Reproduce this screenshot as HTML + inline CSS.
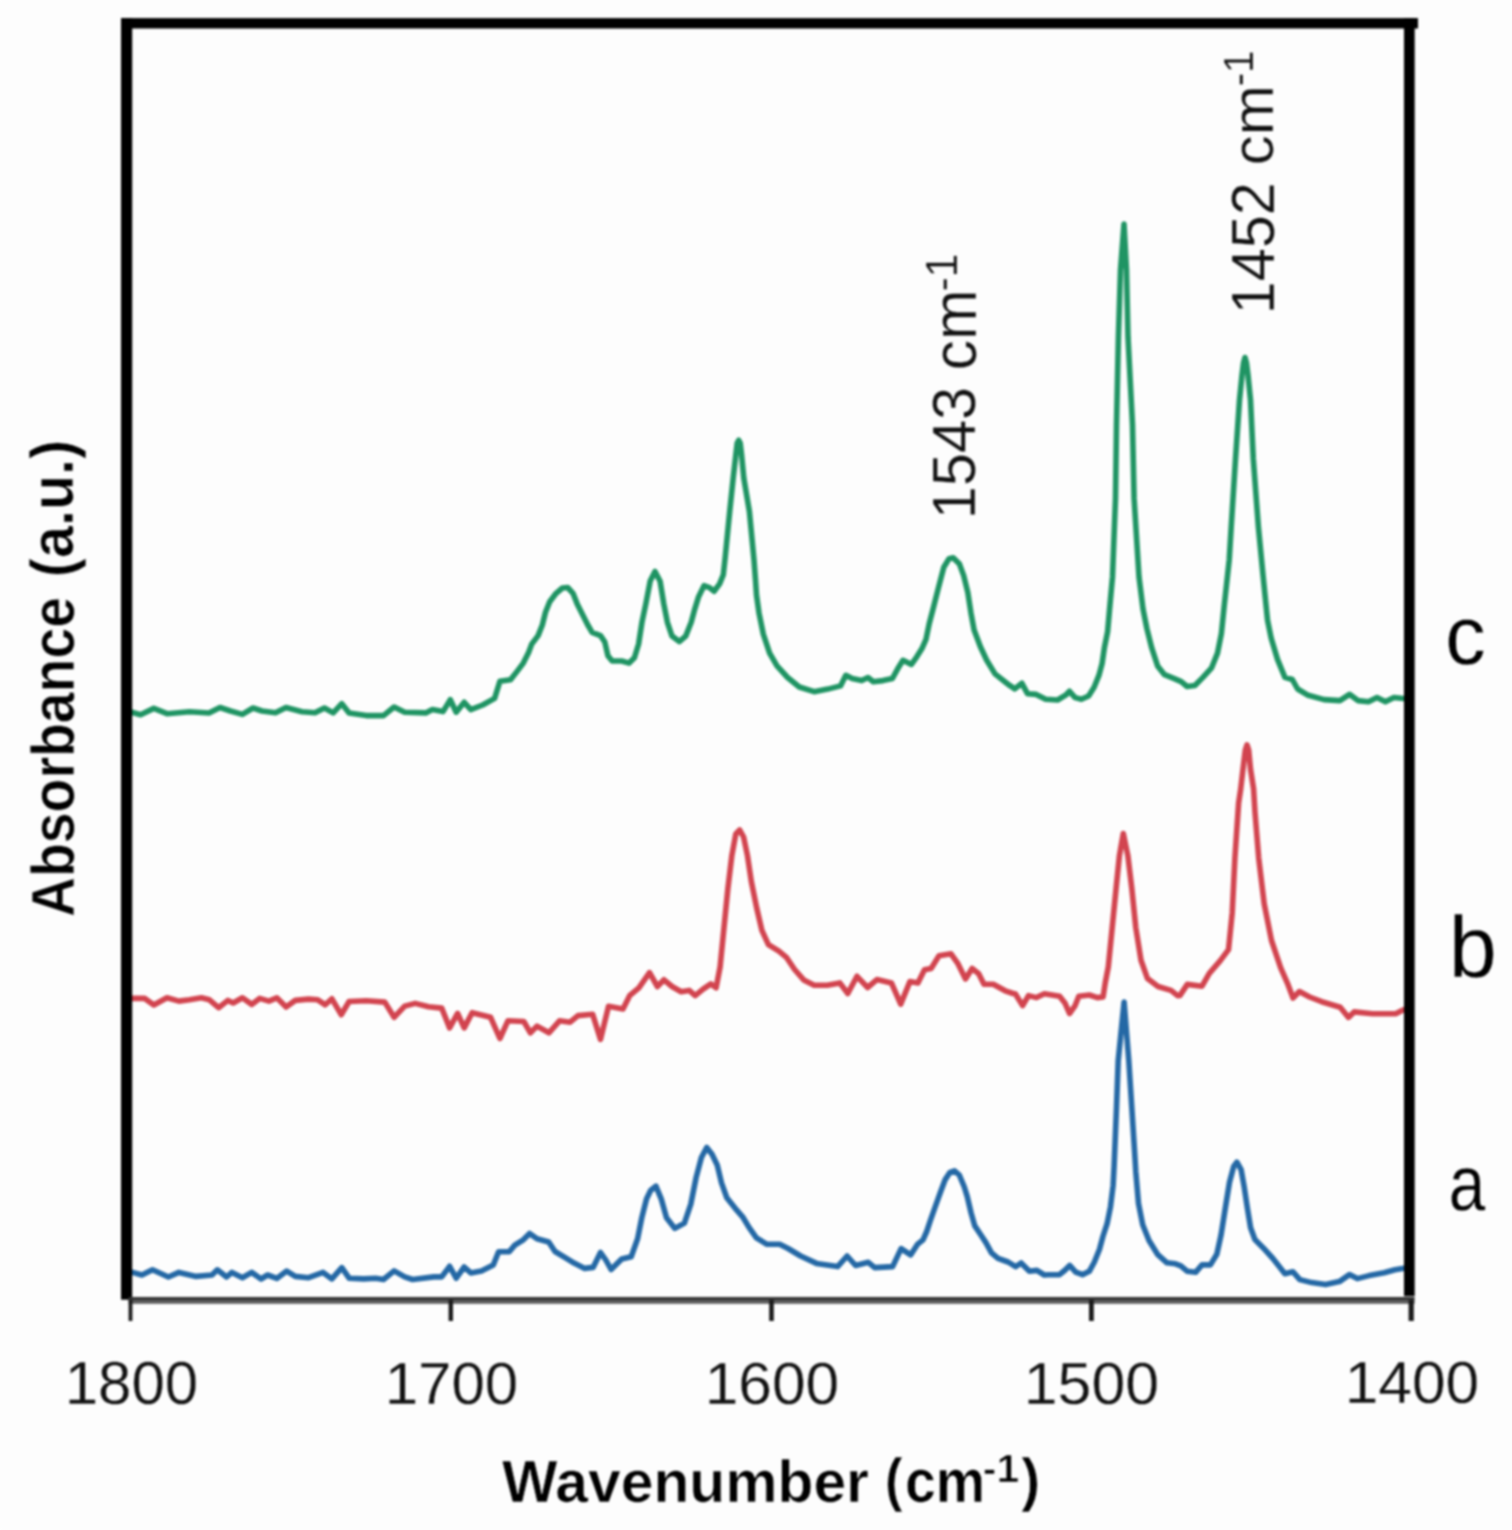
<!DOCTYPE html>
<html><head><meta charset="utf-8"><title>Absorbance spectra</title>
<style>
html,body{margin:0;padding:0;background:#fdfdfd;}
body{width:1512px;height:1530px;overflow:hidden;}
svg{display:block;filter:blur(1px);}
</style></head>
<body>
<svg width="1512" height="1530" viewBox="0 0 1512 1530">
<rect x="0" y="0" width="1512" height="1530" fill="#fdfdfd"/>
<g fill="none" stroke-linejoin="round" stroke-linecap="round" stroke-width="5.6">
<polyline stroke="#1f9463" points="130.0,711.7 140.6,714.7 153.8,708.4 167.0,713.7 189.5,711.7 209.0,713.0 220.0,707.5 230.5,711.0 242.4,714.4 253.0,708.0 262.0,711.0 275.5,712.8 286.0,707.5 302.0,711.7 315.0,712.8 324.4,708.0 333.2,712.9 341.8,703.7 349.1,712.9 366.3,715.6 383.5,715.6 394.1,707.0 404.7,712.2 425.8,712.9 432.4,709.6 443.0,711.6 450.3,699.7 456.2,712.2 464.2,702.3 470.8,709.6 482.7,705.0 494.6,698.4 499.9,681.2 510.5,679.8 516.9,671.6 523.3,663.1 528.6,652.5 531.7,644.1 538.1,635.6 542.3,625.0 545.5,612.3 549.7,601.7 556.1,593.3 562.4,588.0 567.7,587.5 573.0,593.3 577.2,603.9 582.5,614.4 587.8,625.0 592.1,632.4 600.5,635.6 604.8,642.0 607.9,655.7 612.2,661.0 621.7,661.0 629.1,663.1 634.4,657.8 638.6,644.0 642.0,622.0 646.0,603.0 650.2,581.0 655.0,571.5 660.1,581.2 663.8,604.0 667.4,622.3 672.0,636.1 679.3,641.6 685.7,636.1 691.2,622.3 694.9,608.6 698.6,596.7 704.0,585.7 709.5,587.6 714.1,591.2 719.6,583.9 723.3,574.8 725.1,558.3 729.7,511.5 733.2,478.0 735.8,455.0 737.2,443.0 738.7,440.3 740.2,443.0 741.6,455.0 743.8,478.0 749.4,511.5 754.0,560.0 755.5,580.0 756.5,595.0 759.0,613.0 763.3,634.1 769.6,653.1 777.0,665.8 787.6,677.5 799.3,687.0 814.1,691.7 827.8,689.1 840.5,685.9 845.8,675.3 852.2,678.5 861.7,680.6 868.0,677.5 873.3,681.7 882.9,680.6 892.4,678.5 897.8,668.6 903.0,660.3 911.4,664.4 916.6,657.1 921.8,648.8 926.0,639.3 929.2,623.7 933.3,608.0 938.6,587.1 943.8,567.2 949.0,558.8 953.2,557.8 959.5,564.1 963.7,575.6 967.8,592.3 971.0,613.2 974.1,629.9 980.4,646.7 986.7,660.3 995.0,673.9 1005.5,682.2 1010.0,685.7 1014.8,688.9 1021.9,683.3 1027.5,693.7 1036.2,694.4 1045.7,699.2 1057.6,700.0 1065.6,695.2 1069.5,691.3 1075.1,697.6 1081.4,699.2 1088.6,696.0 1094.1,687.3 1098.9,675.4 1102.1,663.5 1104.4,647.6 1107.6,631.7 1109.5,610.0 1112.5,576.9 1115.5,498.4 1116.5,425.0 1118.4,337.2 1120.5,270.0 1124.0,224.0 1126.5,270.0 1128.0,337.2 1132.5,425.0 1134.1,498.4 1139.0,576.9 1143.0,609.0 1146.9,628.6 1151.8,648.2 1157.6,665.9 1164.5,674.7 1174.3,678.6 1181.2,681.6 1187.1,686.5 1194.9,685.5 1202.7,677.6 1211.6,667.8 1217.5,653.1 1221.4,633.5 1224.3,605.0 1226.5,585.0 1229.2,560.0 1231.2,527.0 1235.5,459.0 1239.5,400.0 1242.0,375.0 1243.5,363.0 1245.0,357.5 1246.5,363.0 1248.0,375.0 1250.5,400.0 1253.3,459.0 1258.4,527.0 1263.0,575.0 1265.5,600.0 1267.5,620.0 1271.2,638.2 1277.5,659.4 1284.9,677.4 1292.3,679.5 1297.6,689.0 1308.2,695.3 1324.1,699.6 1339.9,700.6 1349.5,694.3 1357.9,700.6 1368.5,701.7 1377.0,697.5 1385.4,701.7 1393.9,697.5 1403.4,698.5 1409.0,698.2"/>
<polyline stroke="#d2444f" points="131.0,998.4 144.6,998.4 153.8,1005.0 167.0,997.8 178.9,1001.1 189.5,999.8 201.4,997.8 209.4,999.8 218.6,1007.7 227.9,1000.4 233.2,1003.0 242.4,997.8 251.7,1004.4 259.6,998.4 268.9,1001.1 276.8,997.8 286.1,1007.0 295.3,1000.4 308.6,999.1 317.8,999.8 325.3,1004.8 331.9,998.8 341.2,1014.7 349.1,1001.5 366.3,1000.8 384.8,1002.1 394.1,1017.3 404.7,1006.1 415.2,1003.4 428.5,1006.7 441.7,1008.1 449.6,1027.9 457.6,1013.4 464.2,1027.9 472.1,1012.7 490.6,1017.3 499.9,1038.5 507.9,1020.8 523.8,1021.5 530.4,1032.8 537.0,1026.1 548.9,1032.8 559.5,1020.8 570.1,1022.2 578.0,1015.6 592.6,1014.2 600.5,1039.4 608.5,1006.3 623.0,1008.9 629.6,995.7 638.9,987.8 649.5,972.6 657.4,986.5 664.0,979.8 672.0,986.5 681.2,991.7 689.2,990.4 695.2,995.6 703.1,989.1 710.9,983.9 716.1,987.8 720.1,966.9 724.0,927.6 727.9,888.4 731.8,855.8 735.8,834.0 739.7,830.0 743.6,837.0 747.5,855.8 751.4,881.9 756.7,908.0 761.9,930.3 768.4,944.6 778.9,951.2 786.7,957.7 794.6,969.5 803.7,979.9 814.2,985.2 827.3,985.2 839.8,982.9 847.8,993.5 857.0,976.3 867.6,987.5 876.9,979.6 891.4,982.9 900.7,1004.1 909.9,981.6 917.9,982.9 924.5,969.7 931.1,968.4 939.0,955.8 951.0,953.8 957.6,963.1 965.5,978.9 972.1,968.4 978.7,973.7 984.0,984.2 993.3,984.2 1005.2,990.8 1013.1,993.5 1015.3,993.7 1022.6,1005.6 1028.5,995.6 1036.5,997.6 1044.4,993.7 1059.6,996.3 1064.9,1002.9 1069.5,1013.5 1074.8,1006.2 1078.8,996.3 1089.4,995.0 1097.3,997.6 1103.1,996.9 1105.2,983.1 1108.3,966.9 1112.2,927.6 1116.1,888.4 1119.4,855.8 1123.3,833.5 1127.9,855.8 1131.8,888.4 1135.8,927.6 1141.0,960.3 1147.5,978.6 1158.0,986.5 1171.0,990.4 1177.6,995.6 1180.0,995.4 1187.3,984.4 1202.0,986.2 1209.3,973.4 1220.3,960.6 1228.5,949.6 1232.2,913.0 1234.9,858.1 1238.6,803.2 1240.7,789.0 1243.0,769.0 1245.3,750.0 1247.0,744.8 1248.7,750.0 1250.5,769.0 1253.6,789.0 1255.0,812.4 1258.7,858.1 1264.2,903.9 1271.5,940.5 1280.7,967.9 1287.4,983.1 1293.0,998.0 1299.4,991.5 1309.6,997.0 1321.7,1001.7 1340.2,1007.2 1348.5,1017.4 1354.1,1011.9 1372.6,1013.7 1395.7,1013.7 1403.1,1010.0 1409.0,1007.5"/>
<polyline stroke="#2468a5" points="132.6,1272.4 141.9,1275.0 152.5,1269.8 168.4,1277.0 178.9,1272.4 196.1,1276.4 212.0,1275.0 217.3,1269.8 226.6,1277.0 231.9,1272.4 242.4,1277.7 251.7,1272.4 261.0,1279.0 267.6,1275.0 276.8,1278.4 286.7,1271.1 295.3,1276.4 308.6,1277.7 323.1,1272.4 331.9,1278.9 341.8,1267.6 349.1,1278.2 363.7,1278.9 375.6,1278.2 383.5,1279.5 394.1,1270.9 404.7,1276.9 412.6,1279.5 433.8,1276.9 441.7,1276.9 449.6,1266.3 456.2,1278.2 464.2,1267.0 470.8,1272.9 481.4,1270.9 493.3,1265.0 498.6,1251.7 509.2,1251.7 514.8,1245.1 523.3,1239.8 529.6,1233.5 537.0,1238.8 548.7,1242.0 555.0,1251.5 565.6,1257.8 574.1,1263.1 584.7,1268.4 593.1,1267.4 600.5,1252.5 605.8,1260.0 611.1,1269.5 621.7,1258.9 631.2,1256.8 637.6,1238.8 641.8,1217.6 646.5,1199.0 650.6,1190.5 655.9,1186.1 661.2,1198.8 666.5,1217.8 674.9,1228.4 684.4,1223.1 690.8,1204.1 696.1,1177.6 701.4,1157.5 706.7,1147.5 712.0,1154.3 717.2,1164.9 721.5,1182.9 726.8,1197.7 735.2,1208.3 742.6,1216.8 749.0,1227.4 756.4,1237.9 767.0,1244.3 779.7,1244.3 788.1,1248.5 800.6,1256.0 816.5,1263.4 837.6,1266.6 847.1,1256.0 855.6,1265.5 868.3,1262.3 874.7,1267.6 892.6,1266.6 901.1,1248.6 910.6,1254.9 917.4,1244.4 923.0,1239.8 926.7,1231.5 930.4,1220.4 935.0,1207.4 940.6,1191.7 945.2,1179.6 950.0,1172.3 954.5,1170.8 959.3,1175.0 964.3,1187.0 967.2,1196.3 971.1,1213.0 974.8,1225.9 980.4,1234.3 985.9,1242.6 991.5,1252.8 998.0,1258.3 1008.1,1262.0 1015.6,1266.7 1021.1,1263.0 1029.4,1271.3 1036.9,1270.4 1044.3,1275.0 1048.5,1274.7 1059.5,1274.7 1064.6,1270.5 1069.7,1265.4 1075.7,1272.1 1082.5,1274.7 1089.3,1271.3 1094.4,1262.0 1099.5,1249.2 1102.9,1236.5 1107.1,1223.7 1110.5,1206.7 1113.1,1185.5 1114.1,1166.5 1116.5,1107.6 1118.2,1060.6 1124.1,1002.0 1128.8,1060.6 1131.8,1107.6 1134.5,1150.0 1135.8,1171.7 1138.5,1203.5 1142.7,1224.7 1149.0,1240.5 1157.5,1254.3 1167.0,1262.8 1175.5,1263.8 1180.8,1265.9 1187.1,1271.2 1195.6,1272.3 1202.0,1264.9 1210.4,1264.9 1216.8,1254.3 1221.0,1235.2 1225.2,1208.8 1229.5,1182.3 1233.7,1166.5 1236.9,1162.2 1241.1,1169.6 1244.3,1187.6 1247.5,1208.8 1250.6,1227.8 1254.9,1239.5 1263.3,1247.9 1272.9,1258.5 1284.9,1273.7 1292.8,1271.7 1299.8,1279.6 1311.7,1282.6 1325.6,1284.6 1339.4,1281.6 1349.4,1274.6 1357.3,1278.6 1369.2,1275.6 1384.1,1272.7 1395.0,1269.7 1403.9,1268.2 1409.0,1266.0"/>
</g>
<!-- frame -->
<rect x="121" y="18.2" width="11.2" height="1281.5" fill="#000"/>
<rect x="121" y="18.1" width="1297" height="10.4" fill="#000"/>
<rect x="1404" y="18.2" width="10.7" height="1278" fill="#000"/>
<rect x="128.6" y="1297" width="1286" height="3.8" fill="#333"/>
<rect x="128.6" y="1300.8" width="1286" height="3.0" fill="#5e5e5e"/>
<g fill="#1a1a1a">
<rect x="128.6" y="1300" width="3.8" height="21" />
<rect x="448.6" y="1300" width="4.4" height="21" />
<rect x="769.2" y="1300" width="4.6" height="21" />
<rect x="1089" y="1300" width="4.8" height="21" />
<rect x="1408.6" y="1300" width="5.2" height="21" />
</g>
<g font-family="'Liberation Sans', Arial, sans-serif">
<text x="64.69" y="1403.96" font-size="61.27" textLength="133.47" lengthAdjust="spacingAndGlyphs" fill="#111" stroke="#fdfdfd" stroke-width="0.3">1800</text>
<text x="384.69" y="1403.97" font-size="59.90" textLength="133.49" lengthAdjust="spacingAndGlyphs" fill="#111" stroke="#fdfdfd" stroke-width="0.3">1700</text>
<text x="704.69" y="1403.95" font-size="59.94" textLength="134.50" lengthAdjust="spacingAndGlyphs" fill="#111" stroke="#fdfdfd" stroke-width="0.3">1600</text>
<text x="1023.73" y="1403.95" font-size="59.94" textLength="135.45" lengthAdjust="spacingAndGlyphs" fill="#111" stroke="#fdfdfd" stroke-width="0.3">1500</text>
<text x="1344.69" y="1403.01" font-size="59.97" textLength="134.46" lengthAdjust="spacingAndGlyphs" fill="#111" stroke="#fdfdfd" stroke-width="0.3">1400</text>
<text x="501.98" y="1501.98" font-weight="bold" font-size="59.75" textLength="367.04" lengthAdjust="spacingAndGlyphs" fill="#000" stroke="#fdfdfd" stroke-width="0.7">Wavenumber</text>
<text x="885.08" y="1500.29" font-weight="bold" font-size="59.50" textLength="17.60" lengthAdjust="spacingAndGlyphs" fill="#000" stroke="#fdfdfd" stroke-width="0.7">(</text>
<text x="904.95" y="1502.39" font-weight="bold" font-size="61.24" textLength="80.28" lengthAdjust="spacingAndGlyphs" fill="#000" stroke="#fdfdfd" stroke-width="0.7">cm</text>
<text x="982.80" y="1482.21" font-weight="bold" font-size="39.46" textLength="36.36" lengthAdjust="spacingAndGlyphs" fill="#000" stroke="#fdfdfd" stroke-width="0.7">-1</text>
<text x="1021.28" y="1500.29" font-weight="bold" font-size="59.50" textLength="18.97" lengthAdjust="spacingAndGlyphs" fill="#000" stroke="#fdfdfd" stroke-width="0.7">)</text>
<text transform="translate(73.95,917.02) rotate(-90)" x="0" y="0" font-weight="bold" font-size="61.83" textLength="320.07" lengthAdjust="spacingAndGlyphs" fill="#000" stroke="#fdfdfd" stroke-width="0.7">Absorbance</text>
<text transform="translate(73.09,577.15) rotate(-90)" x="0" y="0" font-weight="bold" font-size="60.38" textLength="137.38" lengthAdjust="spacingAndGlyphs" fill="#000" stroke="#fdfdfd" stroke-width="0.7">(a.u.)</text>
<text transform="translate(975.49,519.34) rotate(-90)" x="0" y="0" font-size="61.99" textLength="132.55" lengthAdjust="spacingAndGlyphs" fill="#111" stroke="#fdfdfd" stroke-width="0.3">1543</text>
<text transform="translate(976.00,370.26) rotate(-90)" x="0" y="0" font-size="62.24" textLength="80.73" lengthAdjust="spacingAndGlyphs" fill="#111" stroke="#fdfdfd" stroke-width="0.3">cm</text>
<text transform="translate(957.11,291.35) rotate(-90)" x="0" y="0" font-size="43.98" textLength="37.70" lengthAdjust="spacingAndGlyphs" fill="#111" stroke="#fdfdfd" stroke-width="0.3">-1</text>
<text transform="translate(1273.53,314.33) rotate(-90)" x="0" y="0" font-size="61.98" textLength="132.04" lengthAdjust="spacingAndGlyphs" fill="#111" stroke="#fdfdfd" stroke-width="0.3">1452</text>
<text transform="translate(1273.34,165.29) rotate(-90)" x="0" y="0" font-size="59.03" textLength="80.27" lengthAdjust="spacingAndGlyphs" fill="#111" stroke="#fdfdfd" stroke-width="0.3">cm</text>
<text transform="translate(1253.08,86.35) rotate(-90)" x="0" y="0" font-size="41.96" textLength="35.86" lengthAdjust="spacingAndGlyphs" fill="#111" stroke="#fdfdfd" stroke-width="0.3">-1</text>
<text x="1445.21" y="663.83" font-size="82.53" textLength="40.38" lengthAdjust="spacingAndGlyphs" fill="#000" stroke="#fdfdfd" stroke-width="0.3">c</text>
<text x="1448.68" y="977.13" font-size="87.87" textLength="48.13" lengthAdjust="spacingAndGlyphs" fill="#000" stroke="#fdfdfd" stroke-width="0.3">b</text>
<text x="1448.64" y="1210.10" font-size="78.72" textLength="36.43" lengthAdjust="spacingAndGlyphs" fill="#000" stroke="#fdfdfd" stroke-width="0.3">a</text>
</g>
</svg>
</body></html>
